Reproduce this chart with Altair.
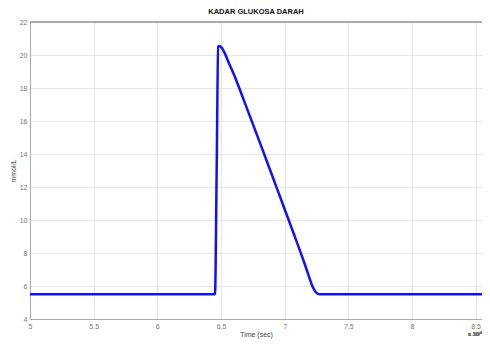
import altair as alt
import pandas as pd

# Data
time_vals = [5.0, 6.453, 6.466, 6.478, 6.487, 6.505, 6.53, 6.56, 6.60, 6.68, 6.81, 6.94,
             7.07, 7.15, 7.19, 7.22, 7.245, 7.27, 8.55]
glucose_vals = [5.5, 5.5, 13.0, 20.5, 20.55, 20.45, 20.1, 19.55, 18.85, 17.25, 14.6, 11.9,
                9.2, 7.5, 6.6, 5.95, 5.62, 5.5, 5.5]

x_ticks = [5, 5.5, 6, 6.5, 7, 7.5, 8, 8.5]
y_ticks = [4, 6, 8, 10, 12, 14, 16, 18, 20, 22]
x_domain = [5, 8.55]
y_domain = [4, 22]

df = pd.DataFrame({"t": time_vals, "g": glucose_vals, "order": list(range(len(time_vals)))})

W, H = 452, 297
FONT = "Liberation Sans"

x_scale = alt.Scale(domain=x_domain, nice=False, zero=False)
y_scale = alt.Scale(domain=y_domain, nice=False, zero=False)
common = dict(grid=True, ticks=False, labelFontSize=7, titleFontSize=7,
              titleFontWeight="normal", labelColor="#777", titleColor="#444",
              domainColor="#aaa", gridColor="#e6e6e6", labelFont=FONT, titleFont=FONT,
              labelOverlap=False, labelFlush=False, format="~g")
x_axis = alt.Axis(values=x_ticks, title="Time (sec)", labelPadding=3, titlePadding=1, **common)
y_axis = alt.Axis(values=y_ticks, title="mmol/L", labelPadding=3, titlePadding=3, **common)

line = alt.Chart(df).mark_line(color="#1010ff", strokeWidth=2.5, clip=True,
                               interpolate="monotone").encode(
    x=alt.X("t:Q", scale=x_scale, axis=x_axis),
    y=alt.Y("g:Q", scale=y_scale, axis=y_axis),
    order="order:Q",
)

top_border = alt.Chart(df).mark_rule(color="#aaa", strokeWidth=1).encode(
    y=alt.YDatum(22, scale=y_scale, axis=y_axis)
)

exp_label = alt.Chart(df).mark_text(
    text="x 10⁴", fontSize=6, color="#777", font=FONT, align="right", baseline="bottom"
).encode(
    x=alt.XDatum(8.55, scale=x_scale, axis=x_axis),
    y=alt.YDatum(4, scale=y_scale, axis=y_axis),
    yOffset=alt.value(18),
)

chart = alt.layer(top_border, line, exp_label).properties(
    width=W, height=H,
    title=alt.TitleParams("KADAR GLUKOSA DARAH", fontSize=7.5, fontWeight="bold",
                          font=FONT, color="#111", offset=3),
    autosize=alt.AutoSizeParams(type="none"),
    padding={"left": 22, "top": 14, "right": 0, "bottom": 20},
).configure_view(stroke=None).configure(background="white")

chart.save("out.html", embed_options={"renderer": "svg", "actions": False})
